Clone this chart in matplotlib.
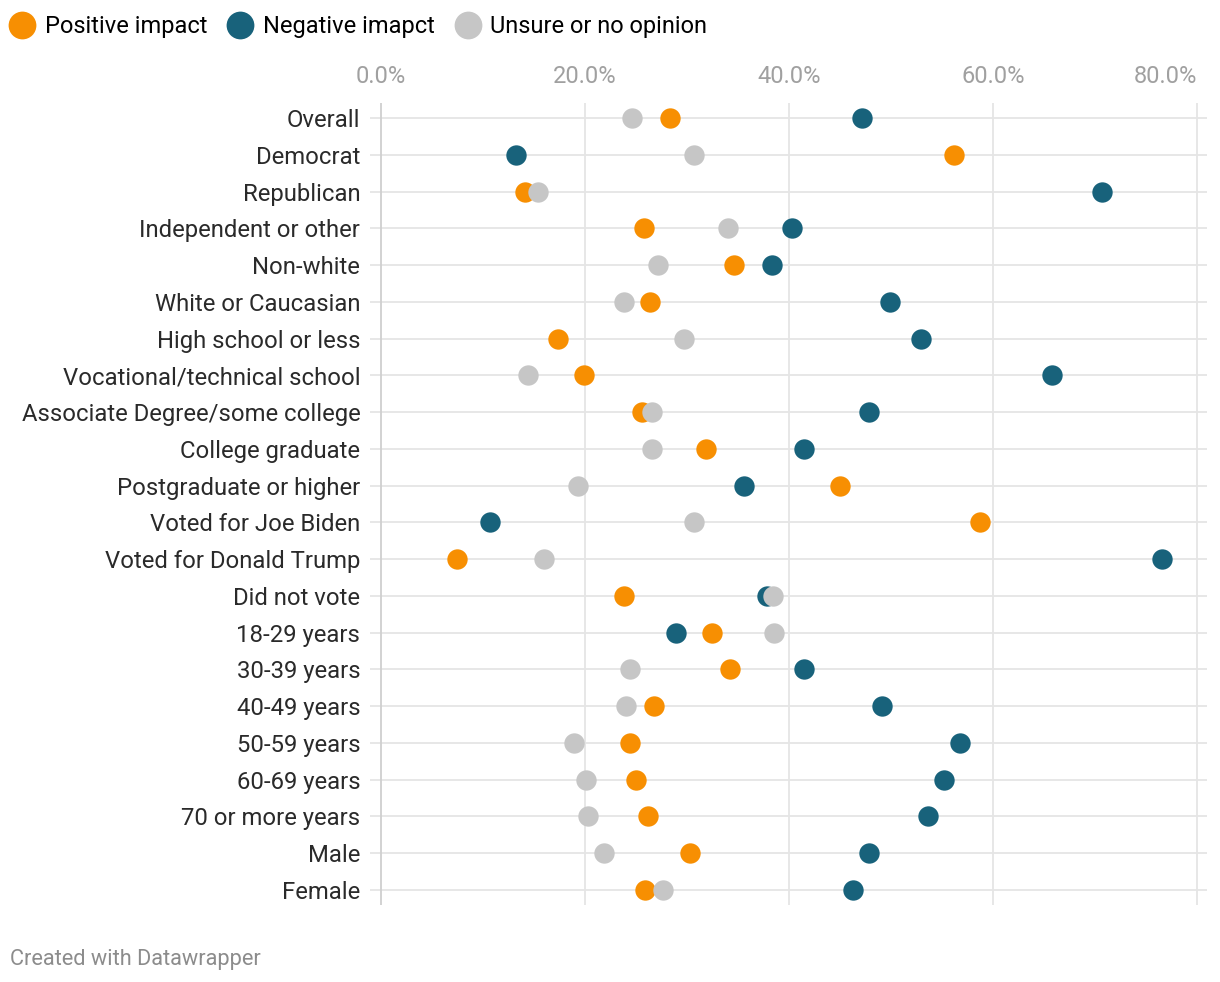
import matplotlib
matplotlib.use("Agg")
import matplotlib.pyplot as plt
from matplotlib.lines import Line2D

plt.rcParams['font.family'] = ['Roboto', 'DejaVu Sans']

categories = ["Overall", "Democrat", "Republican", "Independent or other", "Non-white",
              "White or Caucasian", "High school or less", "Vocational/technical school",
              "Associate Degree/some college", "College graduate", "Postgraduate or higher",
              "Voted for Joe Biden", "Voted for Donald Trump", "Did not vote", "18-29 years",
              "30-39 years", "40-49 years", "50-59 years", "60-69 years", "70 or more years",
              "Male", "Female"]
positive = [28.3, 56.2, 14.1, 25.8, 34.6, 26.4, 17.4, 19.9, 25.6, 31.9, 45.0, 58.7, 7.5,
            23.8, 32.5, 34.2, 26.8, 24.4, 25.0, 26.2, 30.3, 25.9]
negative = [47.2, 13.2, 70.7, 40.3, 38.3, 49.9, 53.0, 65.8, 47.9, 41.5, 35.6, 10.7, 76.6,
            37.9, 28.9, 41.5, 49.1, 56.8, 55.2, 53.6, 47.9, 46.3]
unsure = [24.6, 30.7, 15.4, 34.0, 27.2, 23.8, 29.7, 14.4, 26.6, 26.6, 19.3, 30.7, 16.0,
          38.4, 38.5, 24.4, 24.0, 18.9, 20.1, 20.3, 21.9, 27.7]
series_names = ["Positive impact", "Negative imapct", "Unsure or no opinion"]
colors = ["#f78f02", "#18627b", "#c6c6c6"]
xticks = [0, 20, 40, 60, 80]

W, H = 1220, 982
fig = plt.figure(figsize=(W / 100, H / 100), dpi=100)
ax_l, ax_r, ax_t, ax_b = 370, 1207, 103, 905
ax = fig.add_axes([ax_l / W, 1 - ax_b / H, (ax_r - ax_l) / W, (ax_b - ax_t) / H])

n = len(categories)
ypos = list(range(n))
ax.set_xlim(-1.08, 81.0)
ax.set_ylim(n - 1 + 0.41, -0.41)

for y in ypos:
    ax.axhline(y, color="#e5e5e5", lw=1.3, zorder=1)
for t in xticks:
    ax.axvline(t, color="#cfcfcf" if t == 0 else "#e5e5e5", lw=1.3, zorder=1)

ms = 215
ax.scatter(positive, ypos, s=ms, color=colors[0], zorder=3, linewidths=0)
ax.scatter(negative, ypos, s=ms, color=colors[1], zorder=3, linewidths=0)
ax.scatter(unsure, ypos, s=ms, color=colors[2], zorder=3, linewidths=0)

ax.set_yticks(ypos)
ax.set_yticklabels(categories, fontsize=17.2, color="#2a2a2a")
ax.tick_params(axis='y', length=0, pad=7)
ax.xaxis.tick_top()
ax.set_xticks(xticks)
ax.set_xticklabels([f"{t:.1f}%" for t in xticks], fontsize=17, color="#a0a0a0")
ax.tick_params(axis='x', length=0, pad=11)
ax.get_xticklabels()[-1].set_horizontalalignment('right')
for s in ax.spines.values():
    s.set_visible(False)

handles = [Line2D([0], [0], marker='o', linestyle='', markersize=20, markerfacecolor=c,
                  markeredgewidth=0) for c in colors]
fig.legend(handles, series_names, loc='center left', bbox_to_anchor=(7 / W, 1 - 27 / H), ncol=3,
           frameon=False, fontsize=17, handletextpad=0.3, columnspacing=0.75,
           borderaxespad=0, borderpad=0, handlelength=1.3)

fig.text(10 / W, 1 - 959 / H, "Created with Datawrapper", fontsize=15.7, color="#8c8c8c",
         va='center', ha='left')

fig.savefig("out.png", dpi=100)
